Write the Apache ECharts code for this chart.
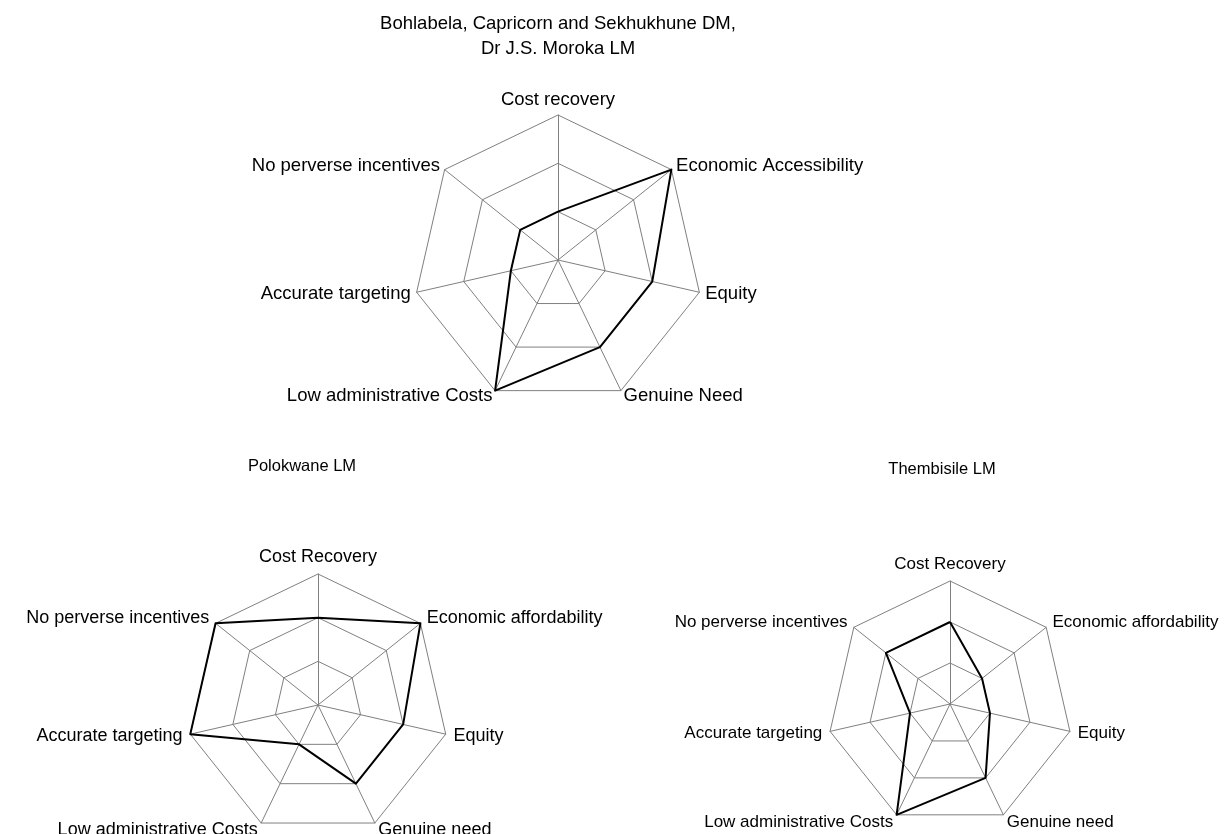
<!DOCTYPE html>
<html style="height: 100%">
<head>
<meta charset="utf-8">
<script src="https://cdn.jsdelivr.net/npm/echarts@6/dist/echarts.min.js"></script>
<style>
  body { margin: 0; background: #fff; }
  #container { width: 1232px; height: 834px; }
</style>
</head>
<body>
<div id="container"></div>
<script>
// axis names, clockwise from the top, as in the picture
var namesTop = ['Cost recovery', 'Economic Accessibility', 'Equity', 'Genuine Need',
                'Low administrative Costs', 'Accurate targeting', 'No perverse incentives'];
var namesLow = ['Cost Recovery', 'Economic affordability', 'Equity', 'Genuine need',
                'Low administrative Costs', 'Accurate targeting', 'No perverse incentives'];

// scores 0..3, same order as the names
var bohlabela = [1, 3, 2, 2, 3, 1, 1];
var polokwane = [2, 3, 2, 2, 1, 3, 3];
var thembisile = [2, 1, 1, 2, 3, 1, 2];

var titleTop = 'Bohlabela, Capricorn and Sekhukhune DM,\nDr J.S. Moroka LM';
var titleLeft = 'Polokwane LM';
var titleRight = 'Thembisile LM';

var maxScore = 3;
// echarts lays indicators out counter-clockwise, so walk the lists backwards
var order = [0, 6, 5, 4, 3, 2, 1];
function reorder(arr) { return order.map(function (i) { return arr[i]; }); }

function makeRadar(names, center, radius, fontSize, gap) {
  return {
    center: center,
    radius: radius,
    startAngle: 90,
    shape: 'polygon',
    splitNumber: 3,
    nameGap: gap,
    indicator: reorder(names).map(function (n) { return { name: n, min: 0, max: maxScore }; }),
    axisName: { color: '#000', fontSize: fontSize, fontFamily: 'Arial, Liberation Sans' },
    axisLine: { lineStyle: { color: '#808080', width: 1 } },
    splitLine: { lineStyle: { color: '#808080', width: 1 } },
    splitArea: { show: false },
    axisTick: { show: false },
    axisLabel: { show: false }
  };
}

function makeSeries(idx, vals) {
  return {
    type: 'radar',
    radarIndex: idx,
    symbol: 'none',
    silent: true,
    animation: false,
    lineStyle: { color: '#000', width: 2 },
    data: [{ value: reorder(vals) }]
  };
}

var myChart = echarts.init(document.getElementById('container'));
var font = 'Arial, Liberation Sans';
myChart.setOption({
  animation: false,
  backgroundColor: '#fff',
  graphic: [
    { type: 'text', x: 558, y: 11,
      style: { text: titleTop, fontSize: 18.5, lineHeight: 25, fontFamily: font, fill: '#000', textAlign: 'center', textVerticalAlign: 'top' } },
    { type: 'text', x: 302, y: 458,
      style: { text: titleLeft, fontSize: 16.5, fontFamily: font, fill: '#000', textAlign: 'center', textVerticalAlign: 'top' } },
    { type: 'text', x: 942, y: 461,
      style: { text: titleRight, fontSize: 16.5, fontFamily: font, fill: '#000', textAlign: 'center', textVerticalAlign: 'top' } }
  ],
  radar: [
    makeRadar(namesTop, [558, 260], 145, 18.5, 6),
    makeRadar(namesLow, [318, 705], 131, 18, 8),
    makeRadar(namesLow, [950, 704], 123, 17, 8)
  ],
  series: [
    makeSeries(0, bohlabela),
    makeSeries(1, polokwane),
    makeSeries(2, thembisile)
  ]
});
</script>
</body>
</html>
